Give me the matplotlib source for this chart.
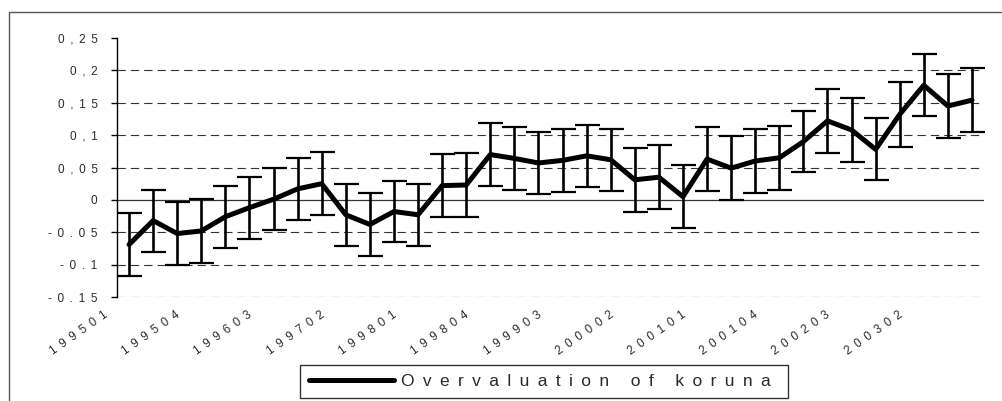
import numpy as np
import matplotlib
matplotlib.use("Agg")
import matplotlib.pyplot as plt
from matplotlib.patches import Rectangle
from matplotlib.transforms import ScaledTranslation

plt.rcParams['font.family'] = ['Liberation Sans', 'DejaVu Sans']

# quarterly estimates (yyyyqq) with +/- error band
quarters = ['199501', '199502', '199503', '199504', '199601', '199602', '199603', '199604',
            '199701', '199702', '199703', '199704', '199801', '199802', '199803', '199804',
            '199901', '199902', '199903', '199904', '200001', '200002', '200003', '200004',
            '200101', '200102', '200103', '200104', '200201', '200202', '200203', '200204',
            '200301', '200302', '200303', '200304']
overvaluation = [-0.069, -0.032, -0.052, -0.048, -0.026, -0.012, 0.001, 0.017,
                 0.025, -0.023, -0.038, -0.018, -0.023, 0.022, 0.023, 0.070,
                 0.064, 0.057, 0.061, 0.068, 0.062, 0.031, 0.035, 0.005,
                 0.063, 0.049, 0.060, 0.065, 0.090, 0.122, 0.108, 0.078,
                 0.132, 0.177, 0.145, 0.154]
error = [0.048, 0.048, 0.049, 0.050, 0.048, 0.048, 0.048, 0.048,
         0.049, 0.048, 0.049, 0.047, 0.048, 0.049, 0.049, 0.049,
         0.049, 0.048, 0.049, 0.048, 0.048, 0.049, 0.049, 0.049,
         0.049, 0.049, 0.049, 0.049, 0.047, 0.049, 0.049, 0.048,
         0.050, 0.048, 0.049, 0.049]
yticks = [-0.15, -0.1, -0.05, 0, 0.05, 0.1, 0.15, 0.2, 0.25]
ytick_labels = ['-0.15', '-0.1', '-0.05', '0', '0,05', '0,1', '0,15', '0,2', '0,25']
series_name = 'Overvaluation of koruna'


def spaced(s, sep=' \u2009'):
    # wide letter spacing like the old spreadsheet export
    return sep.join(s)


fig = plt.figure(figsize=(10.02, 4.01), dpi=100)
ax = fig.add_axes([117 / 1002, 1 - 297 / 401, 867 / 1002, 259 / 401])

x = np.arange(len(quarters))

# grid: dashed lines, solid zero line
for t in yticks:
    if t == 0:
        ax.axhline(0, color='#333333', lw=0.9, zorder=1)
    elif t < max(yticks):
        ax.axhline(t, color='#333333', lw=0.8, linestyle=(0, (7.5, 4.5)), zorder=1)

ax.errorbar(x, overvaluation, yerr=error, fmt='none', ecolor='black',
            elinewidth=1.9, capsize=9, capthick=1.6, zorder=3)
ax.plot(x, overvaluation, color='black', lw=3.6, solid_joinstyle='round',
        solid_capstyle='round', label=spaced(series_name), zorder=4)

ax.set_xlim(-0.5, len(quarters) - 0.5)
ax.set_ylim(-0.15, 0.25)

for side in ['top', 'right', 'bottom']:
    ax.spines[side].set_visible(False)
ax.spines['left'].set_linewidth(1.0)

ax.set_yticks(yticks)
ax.set_yticklabels([spaced(s) for s in ytick_labels], fontsize=8.5, color='#2a2a2a')
ax.tick_params(axis='y', length=4.5, width=1.0, pad=9.5, direction='out')

ax.set_xticks(x[::3])
ax.set_xticklabels([spaced(q) for q in quarters[::3]], fontsize=8.5, color='#2a2a2a',
                   rotation=35, ha='right', va='top', rotation_mode='anchor')
ax.tick_params(axis='x', length=0, pad=8.5)
shift = ScaledTranslation(-0.26, 0, fig.dpi_scale_trans)
for lab in ax.get_xticklabels():
    lab.set_transform(lab.get_transform() + shift)

# legend box runs off the bottom edge
leg = ax.legend(loc='upper left', bbox_to_anchor=(300 / 1002, 0, 488 / 1002, 1 - 365 / 401),
                bbox_transform=fig.transFigure, mode='expand', fontsize=12.5,
                frameon=True, fancybox=False, borderpad=0.5, handlelength=4.9,
                handletextpad=0.4, borderaxespad=0)
leg.get_frame().set_edgecolor('black')
leg.get_frame().set_linewidth(1.0)
for txt in leg.get_texts():
    txt.set_color('#2a2a2a')

# outer chart frame
fig.add_artist(Rectangle((9 / 1002, -0.2), 1.2, 1.2 - 12 / 401, transform=fig.transFigure,
                         fill=False, edgecolor='#555555', lw=1.0, clip_on=False))

fig.savefig('out.png', dpi=100)
